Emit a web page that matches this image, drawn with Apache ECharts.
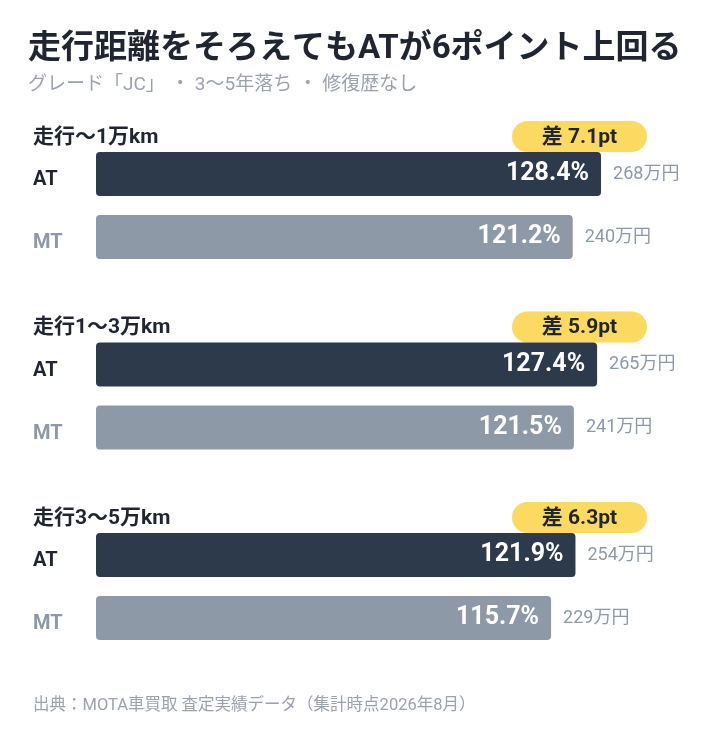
<!DOCTYPE html>
<html>
<head>
<meta charset="utf-8">
<script src="https://cdn.jsdelivr.net/npm/echarts@6/dist/echarts.min.js"></script>
<style>
html,body{margin:0;padding:0;background:#fff;}
#c{width:709px;height:733px;}
</style>
</head>
<body>
<div id="c"></div>
<script>
const titleText = '走行距離をそろえてもATが6ポイント上回る';
const subtitleParts = ['グレード「JC」', '3〜5年落ち', '修復歴なし'];
const sourceText = '出典：MOTA車買取 査定実績データ（集計時点2026年8月）';
const groups = ['走行〜1万km', '走行1〜3万km', '走行3〜5万km'];
const transmissions = ['AT', 'MT'];
const atRate = [128.4, 127.4, 121.9];
const mtRate = [121.2, 121.5, 115.7];
const atPrice = [268, 265, 254];
const mtPrice = [240, 241, 229];
const diffPt = [7.1, 5.9, 6.3];

const FONT = 'Roboto, "Noto Sans CJK JP", sans-serif';
const DARK = '#2c3a4c';
const GRAY = '#8d99a7';
const TXT = '#1f2632';
const SUB = '#9aa2ad';
const YELLOW = '#fcda62';

const gridTops = [142.5, 333, 523.5];
const grids = [], xAxes = [], yAxes = [], series = [], graphics = [];

groups.forEach((g, i) => {
  grids.push({ left: 96, right: 23, top: gridTops[i], height: 126 });
  xAxes.push({ type: 'value', gridIndex: i, min: 0, max: 150, show: false });
  yAxes.push({
    type: 'category', gridIndex: i, data: transmissions, inverse: true,
    axisLine: { show: false }, axisTick: { show: false }, splitLine: { show: false },
    axisLabel: {
      align: 'left', margin: 63,
      formatter: v => v === 'AT' ? '{at|AT}' : '{mt|MT}',
      rich: {
        at: { color: TXT, fontWeight: 'bold', fontSize: 20, fontFamily: FONT, padding: [12, 0, 0, 0] },
        mt: { color: GRAY, fontWeight: 'bold', fontSize: 20, fontFamily: FONT, padding: [12, 0, 0, 0] }
      }
    }
  });
  const rates = [atRate[i], mtRate[i]];
  const prices = [atPrice[i], mtPrice[i]];
  series.push({
    type: 'bar', xAxisIndex: i, yAxisIndex: i, barWidth: 44, silent: true,
    data: rates.map((v, k) => ({ value: v, itemStyle: { color: k === 0 ? DARK : GRAY, borderRadius: 4 } })),
    label: {
      show: true, position: 'insideRight', distance: 12,
      formatter: p => p.value.toFixed(1) + '%',
      color: '#fff', fontSize: 25, fontWeight: 'bold', fontFamily: FONT, padding: [4, 0, 0, 0]
    }
  });
  series.push({
    type: 'bar', xAxisIndex: i, yAxisIndex: i, barWidth: 44, barGap: '-100%', silent: true,
    data: rates,
    itemStyle: { color: 'rgba(0,0,0,0)' },
    label: {
      show: true, position: 'right', distance: 12,
      formatter: p => prices[p.dataIndex] + '万円',
      color: GRAY, fontSize: 18, fontFamily: FONT, padding: [8, 0, 0, 0]
    }
  });
  const cy = gridTops[i] + 31.5 - 22 - 15.5;
  graphics.push({
    type: 'text', x: 33, y: cy + 1,
    style: { text: g, fontSize: 21, fontWeight: 'bold', fontFamily: FONT, fill: TXT, verticalAlign: 'middle' }
  });
  graphics.push({
    type: 'rect', shape: { x: 512, y: cy - 15.5, width: 135, height: 31, r: 15.5 },
    style: { fill: YELLOW }
  });
  graphics.push({
    type: 'text', x: 579.5, y: cy + 1,
    style: { text: '差 ' + diffPt[i].toFixed(1) + 'pt', fontSize: 21, fontWeight: 'bold', fontFamily: FONT,
      fill: TXT, align: 'center', verticalAlign: 'middle' }
  });
});

graphics.push({
  type: 'text', x: 28, y: 49.5,
  style: { text: titleText, fontSize: 33, fontWeight: 'bold', fontFamily: FONT, fill: TXT, verticalAlign: 'middle' }
});
graphics.push({
  type: 'text', x: 28, y: 85,
  style: {
    text: subtitleParts.map(s => '{t|' + s + '}').join('{d|・}'),
    fontSize: 19, fontFamily: FONT, fill: SUB, verticalAlign: 'middle',
    rich: {
      t: { fontSize: 19, fontFamily: FONT, color: SUB },
      d: { fontSize: 19, fontFamily: FONT, color: SUB, padding: [0, 5, 0, 6] }
    }
  }
});
graphics.push({
  type: 'text', x: 33, y: 706,
  style: { text: sourceText, fontSize: 16.5, fontFamily: FONT, fill: SUB, verticalAlign: 'middle' }
});

const chart = echarts.init(document.getElementById('c'), null, { renderer: 'canvas' });
chart.setOption({
  backgroundColor: '#fff',
  animation: false,
  grid: grids, xAxis: xAxes, yAxis: yAxes, series: series,
  graphic: graphics
});
</script>
</body>
</html>
